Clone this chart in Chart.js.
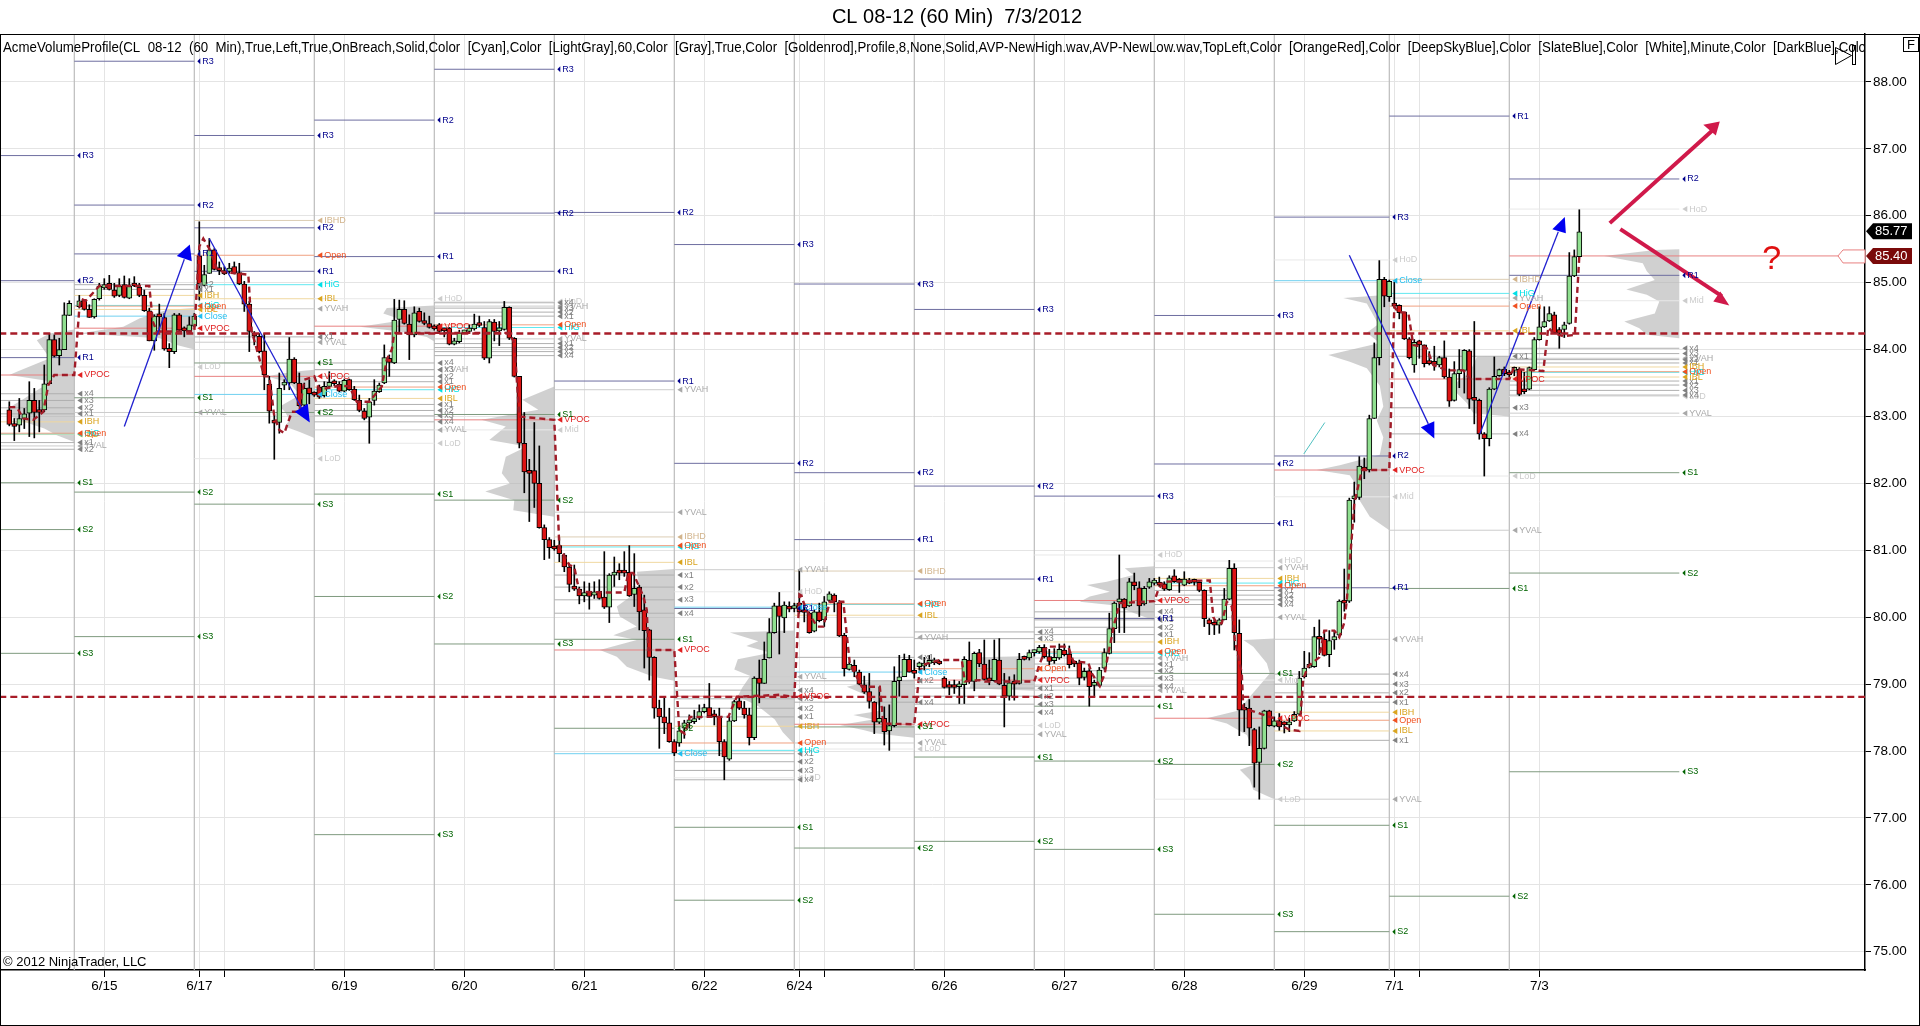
<!DOCTYPE html>
<html lang="en">

<head>
    <meta charset="UTF-8">
    <title>CL 08-12 (60 Min) 7/3/2012</title>
    <style>
        body { margin: 0; background: #fff; }
        canvas { display: block; }
    </style>
</head>

<body>
    <canvas id="chart" width="1920" height="1026"></canvas>

    <script src="https://cdn.jsdelivr.net/npm/chart.js"></script>

    <script>
        // 60 min bars, slot 13 is empty in the picture
        const opens = [
            83.10, 82.88, 82.87, 82.97, 83.05, 83.24, 83.07, 83.10, 83.49, 84.15,
            83.91, 84.00, 84.51, null, 84.64, 84.74, 84.60, 84.49, 84.76, 84.92,
            84.99, 84.89, 84.81, 84.97, 84.77, 84.97, 84.93, 84.81, 84.58, 84.13,
            84.52, 84.48, 84.02, 83.97, 84.52, 84.29, 84.28, 84.35, 85.40, 84.96,
            85.14, 85.49, 85.22, 85.18, 85.17, 85.24, 85.15, 84.98, 84.68, 84.22,
            84.20, 83.98, 83.48, 82.93, 82.91, 83.47, 83.50, 83.86, 83.50, 83.17,
            83.43, 83.34, 83.44, 83.31, 83.45, 83.51, 83.48, 83.38, 83.55, 83.41,
            83.24, 83.08, 82.99, 83.24, 83.37, 83.50, 83.87, 83.80, 84.45, 84.60,
            84.38, 84.22, 84.57, 84.42, 84.39, 84.33, 84.37, 84.29, 84.32, 84.08,
            84.12, 84.25, 84.27, 84.31, 84.39, 84.33, 83.87, 84.41, 84.28, 84.30,
            84.63, 84.17, 83.60, 82.60, 82.19, 82.19, 82.00, 81.34, 81.16, 81.04,
            81.07, 80.93, 80.75, 80.45, 80.42, 80.32, 80.39, 80.33, 80.39, 80.30,
            80.15, 80.63, 80.67, 80.67, 80.67, 80.34, 80.45, 80.11, 79.81, 79.40,
            78.64, 78.51, 78.42, 78.14, 78.12, 78.34, 78.42, 78.44, 78.49, 78.59,
            78.65, 78.52, 78.51, 78.14, 77.88, 78.45, 78.75, 78.64, 78.54, 78.20,
            79.09, 79.01, 79.39, 79.77, 80.17, 79.99, 80.15, 80.13, 80.21, 80.08,
            80.06, 79.79, 80.08, 79.96, 80.25, 80.33, 80.22, 79.73, 79.22, 79.28,
            79.18, 78.99, 78.89, 78.73, 78.43, 78.49, 78.30, 78.38, 79.05, 79.11,
            79.37, 79.18, 79.26, 79.27, 79.31, 79.32, 79.31, 79.09, 78.96, 78.96,
            78.96, 78.99, 79.36, 79.04, 79.47, 79.30, 79.06, 79.05, 79.36, 78.98,
            78.82, 79.01, 79.01, 79.39, 79.39, 79.47, 79.48, 79.55, 79.41, 79.35,
            79.39, 79.51, 79.45, 79.31, 79.32, 79.10, 79.20, 78.98, 78.98, 79.24,
            79.46, 79.83, 80.23, 80.27, 80.17, 80.53, 80.44, 80.20, 80.45, 80.51,
            80.52, 80.50, 80.41, 80.62, 80.53, 80.48, 80.56, 80.53, 80.52, 80.40,
            79.96, 79.90, 79.88, 79.96, 80.27, 80.73, 79.76, 78.64, 78.64, 78.32,
            77.83, 78.04, 78.60, 78.37, 78.45, 78.41, 78.39, 78.45, 78.55, 79.11,
            79.25, 79.26, 79.71, 79.67, 79.44, 79.66, 79.73, 80.24, 80.24, 81.77,
            81.79, 82.22, 82.20, 82.97, 83.88, 85.05, 84.79, 84.68, 84.66, 84.56,
            84.16, 83.77, 84.13, 84.07, 83.81, 83.81, 83.77, 83.88, 83.59, 83.24,
            83.64, 83.69, 83.98, 83.26, 83.24, 82.74, 82.67, 83.41, 83.61, 83.71,
            83.64, 83.69, 83.71, 83.39, 83.41, 83.70, 84.15, 84.34, 84.43, 84.52,
            84.30, 84.30, 84.39, 85.10, 85.39
        ];
        const highs = [
            83.22, 82.97, 83.27, 83.12, 83.52, 83.42, 83.24, 83.77, 84.24, 84.22,
            84.17, 84.70, 84.73, null, 84.81, 84.74, 84.67, 84.76, 84.99, 85.06,
            85.11, 84.99, 85.06, 85.10, 85.06, 85.09, 84.99, 84.89, 84.62, 84.52,
            84.68, 84.54, 84.09, 84.54, 84.54, 84.34, 84.49, 84.54, 85.91, 85.26,
            85.66, 85.51, 85.31, 85.24, 85.29, 85.31, 85.29, 85.02, 84.72, 84.27,
            84.24, 84.24, 83.60, 83.02, 83.65, 83.55, 84.18, 83.88, 83.65, 83.50,
            83.55, 83.37, 83.47, 83.52, 83.67, 83.55, 83.52, 83.56, 83.56, 83.45,
            83.32, 83.12, 83.27, 83.55, 83.50, 84.07, 83.92, 84.75, 84.74, 84.73,
            84.52, 84.64, 84.62, 84.55, 84.50, 84.37, 84.39, 84.32, 84.33, 84.17,
            84.29, 84.29, 84.37, 84.53, 84.50, 84.42, 84.45, 84.45, 84.42, 84.72,
            84.64, 84.18, 83.60, 83.06, 82.36, 82.91, 82.56, 81.38, 81.19, 81.15,
            81.19, 80.95, 80.80, 80.78, 80.45, 80.53, 80.51, 80.53, 80.56, 80.98,
            80.65, 80.90, 80.80, 80.98, 81.07, 80.95, 80.48, 80.33, 79.82, 79.41,
            78.76, 78.79, 78.64, 78.17, 78.34, 78.46, 78.54, 78.61, 78.69, 78.70,
            79.01, 78.61, 78.64, 78.17, 78.51, 78.76, 78.79, 78.74, 78.64, 79.11,
            79.36, 79.63, 79.98, 80.21, 80.37, 80.23, 80.23, 80.21, 80.71, 80.16,
            80.08, 80.11, 80.21, 80.31, 80.38, 80.35, 80.25, 79.76, 79.33, 79.36,
            79.21, 79.12, 79.16, 78.74, 78.96, 78.66, 78.69, 79.26, 79.43, 79.45,
            79.43, 79.36, 79.33, 79.40, 79.43, 79.39, 79.36, 79.11, 79.04, 79.06,
            79.04, 79.41, 79.63, 79.48, 79.52, 79.66, 79.36, 79.66, 79.68, 79.16,
            79.11, 79.14, 79.46, 79.42, 79.51, 79.51, 79.58, 79.59, 79.52, 79.53,
            79.60, 79.60, 79.57, 79.34, 79.36, 79.24, 79.24, 79.06, 79.25, 79.53,
            80.06, 80.23, 80.93, 80.28, 80.58, 80.66, 80.53, 80.46, 80.58, 80.58,
            80.60, 80.53, 80.62, 80.71, 80.58, 80.68, 80.58, 80.57, 80.53, 80.41,
            79.98, 79.96, 79.98, 80.43, 80.85, 80.80, 79.96, 78.71, 78.77, 78.34,
            78.36, 78.61, 78.61, 78.51, 78.56, 78.44, 78.49, 78.59, 79.19, 79.49,
            79.47, 79.85, 79.96, 79.80, 79.80, 79.80, 80.26, 80.72, 81.78, 82.02,
            82.40, 82.38, 83.02, 84.10, 85.33, 85.08, 85.04, 85.01, 84.67, 84.56,
            84.18, 84.15, 84.14, 84.07, 83.97, 84.05, 83.90, 84.13, 83.71, 83.82,
            84.00, 84.00, 84.00, 84.42, 83.26, 82.76, 83.43, 83.89, 83.71, 83.74,
            83.69, 83.74, 83.73, 83.66, 83.74, 84.18, 84.64, 84.64, 84.64, 84.56,
            84.33, 84.41, 85.45, 85.49, 86.09
        ];
        const lows = [
            82.86, 82.64, 82.77, 82.82, 82.70, 82.68, 82.77, 83.07, 83.49, 83.89,
            83.77, 84.00, 84.51, null, 84.62, 84.59, 84.48, 84.47, 84.74, 84.90,
            84.89, 84.78, 84.79, 84.77, 84.76, 84.94, 84.79, 84.57, 84.13, 83.99,
            84.27, 83.99, 83.73, 83.94, 84.27, 84.19, 84.24, 84.34, 84.74, 84.95,
            85.14, 85.19, 85.12, 85.12, 85.14, 85.13, 84.97, 84.57, 83.97, 84.07,
            83.95, 83.40, 82.90, 82.36, 82.75, 83.40, 83.40, 83.49, 83.15, 83.15,
            83.19, 83.30, 83.27, 83.29, 83.42, 83.46, 83.37, 83.37, 83.39, 83.24,
            83.07, 82.95, 82.60, 83.17, 83.36, 83.49, 83.60, 83.79, 84.24, 84.38,
            83.85, 84.19, 84.41, 84.37, 84.32, 84.29, 84.25, 84.19, 84.07, 84.07,
            84.10, 84.24, 84.25, 84.29, 84.34, 83.85, 83.80, 84.13, 84.06, 84.29,
            84.15, 83.59, 82.53, 81.86, 81.43, 81.64, 81.33, 80.86, 80.88, 81.00,
            80.83, 80.68, 80.38, 80.40, 80.20, 80.23, 80.12, 80.28, 80.27, 80.13,
            79.92, 80.46, 80.56, 80.61, 80.31, 80.16, 79.81, 79.24, 79.06, 78.49,
            78.04, 78.26, 78.13, 77.93, 78.07, 78.19, 78.34, 78.41, 78.47, 78.57,
            78.51, 78.39, 77.93, 77.57, 77.86, 78.44, 78.62, 78.49, 78.09, 78.17,
            78.72, 79.01, 79.39, 79.76, 79.45, 79.77, 80.08, 80.08, 80.06, 79.93,
            79.76, 79.78, 79.93, 79.86, 80.23, 80.08, 79.71, 79.12, 79.21, 79.11,
            78.99, 78.86, 78.64, 78.26, 78.41, 78.09, 78.01, 78.36, 78.82, 79.11,
            79.18, 79.09, 79.21, 79.21, 79.26, 79.29, 79.29, 78.94, 78.84, 78.86,
            78.71, 78.71, 79.01, 78.90, 79.26, 79.06, 78.99, 79.04, 78.99, 78.36,
            78.76, 78.76, 79.00, 79.36, 79.36, 79.42, 79.46, 79.39, 79.29, 79.31,
            79.37, 79.42, 79.24, 79.26, 78.99, 79.06, 78.67, 78.81, 78.97, 79.22,
            79.45, 79.62, 79.77, 79.77, 80.16, 80.41, 80.01, 80.18, 80.43, 80.48,
            80.46, 80.40, 80.40, 80.52, 80.37, 80.47, 80.50, 80.48, 80.38, 79.86,
            79.74, 79.74, 79.76, 79.96, 80.26, 79.51, 78.23, 78.29, 78.08, 77.46,
            77.28, 78.03, 78.37, 78.36, 78.31, 78.27, 78.29, 78.44, 78.54, 79.09,
            79.24, 79.25, 79.44, 79.42, 79.26, 79.52, 79.71, 80.09, 80.22, 81.42,
            81.76, 82.07, 82.17, 82.97, 83.77, 84.64, 84.72, 84.62, 84.46, 84.15,
            83.86, 83.66, 83.87, 83.74, 83.77, 83.69, 83.74, 83.57, 83.15, 83.23,
            83.43, 83.35, 83.12, 82.89, 82.66, 82.11, 82.56, 83.40, 83.60, 83.61,
            83.59, 83.61, 83.31, 83.34, 83.40, 83.69, 84.14, 84.33, 84.42, 84.24,
            84.02, 84.18, 84.38, 85.09, 85.39
        ];
        const closes = [
            82.88, 82.85, 82.97, 83.04, 83.24, 83.06, 83.06, 83.49, 84.15, 83.90,
            84.00, 84.52, 84.69, null, 84.73, 84.60, 84.48, 84.75, 84.95, 84.97,
            84.90, 84.80, 84.95, 84.78, 84.95, 84.95, 84.81, 84.58, 84.13, 84.50,
            84.49, 84.01, 83.97, 84.52, 84.29, 84.28, 84.37, 84.50, 84.98, 85.12,
            85.49, 85.20, 85.18, 85.13, 85.22, 85.15, 84.98, 84.68, 84.27, 84.20,
            83.97, 83.62, 83.08, 82.90, 83.42, 83.51, 83.86, 83.50, 83.16, 83.42,
            83.34, 83.32, 83.29, 83.45, 83.51, 83.49, 83.38, 83.54, 83.40, 83.25,
            83.09, 82.97, 83.22, 83.38, 83.47, 83.88, 83.81, 84.44, 84.60, 84.39,
            84.22, 84.55, 84.42, 84.39, 84.33, 84.31, 84.27, 84.28, 84.08, 84.13,
            84.25, 84.27, 84.32, 84.38, 84.36, 83.87, 84.42, 84.27, 84.30, 84.63,
            84.17, 83.60, 82.60, 82.17, 82.15, 82.00, 81.34, 81.16, 81.04, 81.02,
            80.95, 80.75, 80.49, 80.42, 80.32, 80.37, 80.31, 80.38, 80.28, 80.15,
            80.63, 80.67, 80.66, 80.66, 80.32, 80.43, 80.08, 79.80, 79.40, 78.64,
            78.51, 78.42, 78.14, 77.97, 78.30, 78.42, 78.45, 78.47, 78.59, 78.65,
            78.52, 78.51, 78.14, 77.91, 78.45, 78.74, 78.64, 78.54, 78.20, 79.09,
            79.01, 79.37, 79.77, 80.17, 80.01, 80.18, 80.12, 80.15, 80.08, 80.07,
            79.77, 80.08, 79.95, 80.23, 80.35, 80.23, 79.72, 79.23, 79.30, 79.19,
            79.00, 78.88, 78.74, 78.43, 78.49, 78.29, 78.38, 79.04, 79.11, 79.37,
            79.18, 79.16, 79.32, 79.30, 79.33, 79.33, 79.30, 78.95, 78.95, 78.95,
            78.99, 79.37, 79.04, 79.46, 79.30, 79.07, 79.05, 79.37, 79.00, 78.82,
            79.02, 79.00, 79.37, 79.37, 79.47, 79.48, 79.55, 79.41, 79.34, 79.40,
            79.52, 79.44, 79.29, 79.30, 79.09, 79.19, 78.96, 79.00, 79.21, 79.47,
            79.83, 80.21, 80.27, 80.14, 80.53, 80.47, 80.17, 80.43, 80.53, 80.53,
            80.48, 80.42, 80.59, 80.53, 80.52, 80.57, 80.51, 80.52, 80.40, 79.98,
            79.90, 79.88, 79.96, 80.27, 80.73, 79.77, 78.61, 78.61, 78.34, 77.82,
            78.04, 78.60, 78.38, 78.45, 78.36, 78.39, 78.43, 78.55, 79.09, 79.24,
            79.28, 79.71, 79.67, 79.43, 79.65, 79.71, 80.24, 80.21, 81.75, 81.79,
            82.26, 82.20, 82.97, 83.88, 85.05, 84.80, 85.02, 84.65, 84.55, 84.16,
            83.88, 84.11, 84.07, 83.79, 83.79, 83.78, 83.88, 83.59, 83.23, 83.64,
            83.70, 83.99, 83.26, 83.24, 82.74, 82.67, 83.41, 83.60, 83.70, 83.64,
            83.62, 83.71, 83.33, 83.37, 83.73, 84.15, 84.34, 84.42, 84.54, 84.25,
            84.24, 84.37, 85.10, 85.39, 85.76
        ];

        // axis
        const priceTicks = [75, 76, 77, 78, 79, 80, 81, 82, 83, 84, 85, 86, 87, 88];
        const tickBars = [19, 38, 43, 67, 91, 115, 139, 158, 163, 187, 211, 235, 259, 277, 282, 306];
        const tickLabels = ['6/15', '6/17', '', '6/19', '6/20', '6/21', '6/22', '6/24', '', '6/26', '6/27', '6/28', '6/29', '7/1', '', '7/3'];
        const sessionBars = [-2, 13, 37, 61, 85, 109, 133, 157, 181, 205, 229, 253, 276, 300, 334];

        // session levels: [session number, price]
        const r3Levels = [[0, 86.90], [1, 88.31], [2, 87.20], [4, 88.19], [6, 85.57], [7, 84.98], [8, 84.60], [9, 81.81], [10, 84.51], [11, 85.98]];
        const r2Levels = [[0, 85.03], [1, 86.16], [2, 85.82], [3, 87.43], [4, 86.04], [5, 86.05], [6, 82.30], [7, 82.16], [8, 81.96], [10, 82.29], [11, 82.41], [13, 86.55]];
        const r1Levels = [[0, 83.88], [1, 85.43], [2, 85.17], [3, 85.39], [4, 85.17], [5, 83.53], [6, 80.13], [7, 81.16], [8, 80.57], [9, 79.98], [10, 81.40], [11, 80.44], [12, 87.49], [13, 85.11]];
        const s1Levels = [[0, 82.01], [1, 83.28], [2, 83.80], [3, 81.84], [4, 83.03], [5, 79.67], [6, 76.86], [7, 78.36], [8, 77.91], [9, 78.67], [10, 79.16], [11, 76.89], [12, 80.43], [13, 82.16]];
        const s2Levels = [[0, 81.31], [1, 81.87], [2, 83.06], [3, 80.31], [4, 81.75], [5, 78.34], [6, 75.77], [7, 76.55], [8, 76.65], [9, 77.85], [10, 77.80], [11, 75.30], [12, 75.83], [13, 80.66]];
        const s3Levels = [[0, 79.46], [1, 79.71], [2, 81.69], [3, 76.75], [4, 79.60], [9, 76.53], [10, 75.56], [13, 77.69]];
        const x1Levels = [[0, 83.04], [0, 82.61], [1, 84.90], [2, 84.19], [3, 83.52], [3, 83.18], [4, 84.50], [4, 84.09], [5, 80.63], [6, 78.51], [6, 77.96], [7, 79.40], [8, 78.94], [9, 79.74], [9, 79.30], [10, 80.40], [11, 78.73], [11, 78.16], [12, 83.90], [13, 83.80], [13, 83.53]];
        const x2Levels = [[0, 83.13], [0, 82.51], [1, 84.97], [3, 83.60], [3, 83.09], [4, 84.56], [4, 84.03], [5, 80.45], [6, 78.64], [6, 77.84], [7, 79.05], [8, 78.82], [9, 79.85], [9, 79.20], [10, 80.33], [11, 78.87], [13, 83.85], [13, 83.47]];
        const x3Levels = [[0, 83.24], [3, 83.70], [3, 83.01], [4, 84.62], [4, 83.97], [5, 80.26], [6, 78.78], [6, 77.71], [8, 79.68], [8, 78.70], [9, 79.96], [9, 79.09], [10, 80.26], [11, 79.00], [12, 83.13], [13, 83.94], [13, 83.39]];
        const x4Levels = [[0, 83.34], [3, 83.80], [3, 82.92], [4, 84.70], [4, 83.91], [5, 80.06], [6, 78.91], [6, 77.57], [7, 78.73], [8, 79.78], [8, 78.58], [9, 80.08], [9, 78.97], [10, 80.19], [11, 79.15], [12, 82.74], [13, 84.02], [13, 83.32]];
        const hodLevels = [[3, 84.76], [4, 84.72], [6, 80.38], [9, 80.93], [10, 80.84], [11, 85.34], [13, 86.10]];
        const lodLevels = [[1, 83.74], [2, 82.37], [3, 82.60], [6, 77.60], [7, 78.03], [8, 78.38], [10, 77.28], [12, 82.11], [13, 83.30]];
        const midLevels = [[4, 82.80], [10, 79.06], [11, 81.80], [13, 84.73]];
        const yvahLevels = [[3, 83.70], [4, 84.65], [2, 84.61], [5, 83.40], [6, 80.71], [7, 79.70], [9, 79.39], [10, 80.74], [11, 79.67], [12, 84.77], [13, 83.87]];
        const yvalLevels = [[0, 82.56], [1, 83.06], [2, 84.11], [3, 82.80], [4, 84.16], [5, 81.57], [6, 79.11], [7, 78.12], [8, 78.25], [9, 78.91], [10, 80.00], [11, 77.28], [12, 81.30], [13, 83.05]];
        const ibhdLevels = [[2, 85.93], [5, 81.20], [7, 80.69], [12, 85.05]];
        const ibhLevels = [[0, 82.92], [1, 84.81], [6, 78.37], [9, 79.63], [10, 80.58], [11, 78.58], [13, 83.74]];
        const iblLevels = [[0, 82.73], [1, 84.60], [2, 84.76], [3, 83.27], [5, 80.82], [7, 80.03], [11, 78.30], [12, 84.28], [13, 83.59]];
        const openLevels = [[0, 82.75], [1, 84.65], [2, 85.41], [3, 83.44], [4, 84.37], [5, 81.07], [6, 78.12], [7, 80.20], [8, 79.23], [9, 79.48], [10, 80.47], [11, 78.46], [12, 84.65], [13, 83.67]];
        const higLevels = [[0, 82.74], [1, 84.66], [2, 84.97], [3, 83.40], [4, 84.33], [5, 81.05], [6, 78.01], [7, 80.19], [9, 79.46], [10, 80.51], [12, 84.84], [13, 83.66]];
        const closeLevels = [[1, 84.50], [2, 83.33], [5, 77.96], [6, 80.15], [7, 79.18], [11, 85.03]];
        const vpocLevels = [[0, 83.62], [1, 84.32], [2, 83.60], [3, 84.35], [4, 82.95], [5, 79.51], [6, 78.82], [7, 78.40], [8, 79.06], [9, 80.25], [10, 78.49], [11, 82.20], [12, 83.56]];

        // developing vpoc, dashed step line
        const vpocBars = [
            0, 1.5, 2.8, 4.8, 6.8, 7.8, 9, 13, 14, 14.3, 15.3, 18, 28, 28.7, 29.5, 37, 38, 38.8, 40, 41.5, 42.8, 47.8, 48.5, 51, 52, 53, 54, 55, 56.5, 58, 59, 61,
            62, 66, 68, 69.5, 72, 74.5, 75.5, 76.5, 77, 85, 100, 101, 102, 109, 110, 112, 113, 114, 118.8, 123, 123.8, 124.8, 126.8, 127.5, 127.8, 133,
            134, 135.1, 136.1, 143.8, 145.5, 154, 157, 158.1, 158.8, 159.8, 161.6, 162.8, 164.1, 166.8, 168.1, 170.5, 174.1, 174.8, 181,
            182, 182.8, 186.1, 190.5, 191.1, 194.1, 195.1, 205, 206, 207.5, 211.8, 212.8, 215.8, 216.5, 218.1, 219.1, 219.8, 221.1, 222.1, 229,
            229.8, 230.8, 240.1, 240.8, 241.5, 242.5, 243.5, 244.5, 245.1, 246.5, 246.8, 253, 254, 256, 258, 258.8, 259.8, 262, 263, 265, 266, 267, 267.5, 268.5, 269, 270.5, 276,
            277, 277.8, 279.8, 280.8, 283.5, 284.8, 287.5, 290.8, 292.1, 300, 300.8, 306.8, 307.8, 308.8, 310.8, 313.1, 314
        ];
        const vpocPrices = [
            83.14, 83.14, 82.97, 82.95, 83.07, 83.47, 83.62, 83.62, 84.61, 84.76, 84.73, 84.95, 84.95, 84.42, 84.27, 84.27, 85.54, 85.66, 85.51, 85.21, 85.16, 85.12, 84.27, 83.60, 83.60, 83.00, 82.80, 82.75, 83.07, 83.07, 83.55, 83.60,
            83.40, 83.46, 83.45, 83.22, 83.22, 83.45, 83.85, 84.00, 84.25, 84.25, 84.25, 84.10, 83.00, 82.95, 81.05, 80.78, 80.75, 80.38, 80.37, 80.37, 80.66, 80.66, 80.31, 80.11, 79.51, 79.51,
            78.31, 78.26, 78.51, 78.51, 78.81, 78.84, 78.81, 80.41, 80.23, 80.06, 79.86, 79.86, 80.23, 80.23, 79.31, 78.96, 78.96, 78.41, 78.40,
            79.16, 79.29, 79.36, 79.36, 79.04, 79.06, 79.04, 79.04, 79.29, 79.56, 79.56, 79.34, 79.32, 79.16, 78.97, 79.16, 79.46, 79.93, 80.21, 80.24,
            80.41, 80.53, 80.55, 80.00, 79.91, 79.91, 80.23, 80.16, 79.66, 79.16, 78.64, 78.49, 78.40, 78.32, 78.30, 79.08, 79.27, 79.40, 79.80, 79.80, 79.70, 79.92, 80.25, 81.20, 81.70, 82.20, 82.20,
            84.64, 84.56, 84.55, 84.07, 84.02, 83.77, 83.69, 83.69, 83.56, 83.56, 83.71, 83.68, 84.33, 84.25, 84.20, 84.22, 85.39
        ];

        // the two hand drawn dashed lines and the live prices
        const dashedPrices = [84.24, 78.81];
        const lastPrice = 85.77;
        const openVpocPrice = 85.40;

        // volume profiles, they hang to the left of the session end: price and width in bars
        const profilePrices = [
            [84.30, 84.24, 84.14, 84.04, 83.87, 83.67, 83.62, 83.52, 83.42, 83.27, 83.14, 83.07, 82.97, 82.82, 82.72, 82.62],
            [84.62, 84.59, 84.47, 84.34, 84.29, 84.24, 84.17, 84.07, 84.00],
            [83.70, 83.67, 83.60, 83.50, 83.32, 83.15, 83.07, 82.95, 82.85, 82.77, 82.68],
            [84.66, 84.62, 84.54, 84.44, 84.34, 84.27, 84.19, 84.12],
            [83.45, 83.25, 83.10, 82.95, 82.85, 82.65, 82.55, 82.40, 82.15, 82.00, 81.88, 81.75, 81.60, 81.50],
            [80.72, 80.68, 80.41, 80.16, 80.01, 79.86, 79.73, 79.66, 79.51, 79.41, 79.26, 79.11, 79.05],
            [79.80, 79.77, 79.64, 79.57, 79.47, 79.37, 79.22, 79.12, 78.95, 78.82, 78.67, 78.47, 78.28, 78.10],
            [79.07, 79.05, 78.96, 78.81, 78.61, 78.54, 78.47, 78.39, 78.31, 78.26, 78.20],
            [79.42, 79.40, 79.21, 79.06, 78.94, 78.90],
            [80.76, 80.73, 80.63, 80.53, 80.48, 80.38, 80.31, 80.23, 80.18, 80.03, 79.95],
            [79.68, 79.66, 79.56, 79.31, 79.16, 78.76, 78.61, 78.49, 78.41, 78.24, 78.01, 77.82, 77.72, 77.57, 77.42, 77.28],
            [84.82, 84.77, 84.69, 84.38, 84.25, 84.10, 83.92, 83.82, 83.72, 83.46, 83.15, 82.94, 82.69, 82.43, 82.27, 82.20, 82.12, 81.96, 81.81, 81.66, 81.50, 81.30],
            [83.90, 83.89, 83.66, 83.51, 83.35, 83.20, 83.05, 83.00],
            [85.50, 85.49, 85.40, 85.29, 85.17, 85.04, 84.90, 84.82, 84.72, 84.54, 84.42, 84.32, 84.22, 84.17]
        ];
        const profileWidths = [
            [0, 4.9, 7.5, 6.5, 4.9, 11.5, 13, 4.2, 6.9, 10, 12.9, 13.5, 12, 6, 3.5, 0],
            [0, 5.5, 10.9, 14.2, 18.9, 22.9, 6.9, 3.5, 0],
            [0, 4.2, 9.5, 4.9, 2.9, 6.9, 5.9, 4.9, 5.9, 2.9, 0],
            [0, 9.5, 10.2, 6.2, 14.9, 6.9, 1.5, 0],
            [0, 6.4, 3.2, 14.6, 9.7, 13, 5.5, 9.7, 10.5, 8.9, 13.8, 8, 8.2, 0],
            [0, 7.5, 6.9, 11.5, 10.9, 7.5, 12.2, 7.5, 14.9, 11.5, 9.5, 4.2, 0],
            [0, 12.9, 7.2, 9.6, 4.7, 11.3, 12, 8.8, 10.4, 11.3, 7.2, 3.9, 2.3, 0],
            [0, 8.2, 13.5, 8.9, 6.2, 12.2, 8.2, 14.9, 10, 7.5, 0],
            [0, 11, 11.7, 12.4, 13, 0],
            [0, 5.9, 4.2, 9.5, 13.5, 8.9, 12.9, 14.9, 8.2, 2.9, 0],
            [0, 6.2, 4.2, 1.5, 0.9, 5.5, 6.9, 13.5, 9.5, 5.5, 4.2, 2.9, 6.9, 4.9, 4.2, 0],
            [0, 9.2, 4.5, 2.2, 4.5, 1.9, 12.2, 7.9, 4.5, 1.9, 1.2, 2.5, 1.2, 1.9, 9.9, 14.5, 7.9, 6.5, 6.5, 5.2, 3.9, 0],
            [0, 6.5, 7.9, 10.5, 10.5, 8.5, 7.2, 0],
            [0, 4.9, 15, 7.3, 6.5, 4.9, 10.6, 6.5, 4, 4.9, 11, 8, 6.5, 0]
        ];

        // drawn on the chart by hand, bar / price pairs
        const blueArrowBars = [[23, 35], [40, 58.5], [268, 283.8], [294.1, 309.8]];
        const blueArrowPrices = [[82.85, 85.35], [85.66, 83.12], [85.41, 82.89], [82.74, 85.76]];
        const blueHeadBars = [[36.1, 33.5, 36.5], [60.1, 57.1, 59.7], [285, 282.3, 285], [311.1, 308.6, 311.3]];
        const blueHeadPrices = [[85.57, 85.40, 85.32], [82.91, 83.07, 83.19], [82.67, 82.84, 82.93], [85.98, 85.80, 85.74]];
        const redArrowBars = [[320.1, 341], [322.2, 342.5]];
        const redArrowPrices = [[85.89, 87.3], [85.80, 84.8]];
        const redHeadBars = [[342.1, 338.8, 341.3], [344, 342.2, 340.8]];
        const redHeadPrices = [[87.41, 87.36, 87.20], [84.66, 84.87, 84.72]];
        const tealLineBars = [258.9, 263.1];
        const tealLinePrices = [82.44, 82.91];

        const chartTitle = 'CL 08-12 (60 Min)  7/3/2012';
        const indicatorText = 'AcmeVolumeProfile(CL  08-12  (60  Min),True,Left,True,OnBreach,Solid,Color  [Cyan],Color  [LightGray],60,Color  [Gray],True,Color  [Goldenrod],Profile,8,None,Solid,AVP-NewHigh.wav,AVP-NewLow.wav,TopLeft,Color  [OrangeRed],Color  [DeepSkyBlue],Color  [SlateBlue],Color  [White],Minute,Color  [DarkBlue]';
        const indicatorTail = ',Color';

        const sans = "'Liberation Sans', Arial, sans-serif";
        const narrow = "'Liberation Sans Narrow', 'Liberation Sans', Arial, sans-serif";

        const levelKinds = [
            { list: hodLevels, name: 'HoD', line: '#e8e8e8', text: '#cccccc' },
            { list: lodLevels, name: 'LoD', line: '#e8e8e8', text: '#cccccc' },
            { list: midLevels, name: 'Mid', line: '#e8e8e8', text: '#cccccc' },
            { list: yvahLevels, name: 'YVAH', line: '#cccccc', text: '#a8a8a8' },
            { list: yvalLevels, name: 'YVAL', line: '#cccccc', text: '#a8a8a8' },
            { list: x4Levels, name: 'x4', line: '#b0b0b0', text: '#808080' },
            { list: x3Levels, name: 'x3', line: '#b0b0b0', text: '#808080' },
            { list: x2Levels, name: 'x2', line: '#b0b0b0', text: '#808080' },
            { list: x1Levels, name: 'x1', line: '#b0b0b0', text: '#808080' },
            { list: ibhdLevels, name: 'IBHD', line: '#dccdb4', text: '#d2b48c' },
            { list: ibhLevels, name: 'IBH', line: '#f0d8a0', text: '#daa520' },
            { list: iblLevels, name: 'IBL', line: '#f0d8a0', text: '#daa520' },
            { list: closeLevels, name: 'Close', line: '#70d0f0', text: '#20bff0' },
            { list: higLevels, name: 'HiG', line: '#60e8f0', text: '#00e0e8' },
            { list: openLevels, name: 'Open', line: '#f0a080', text: '#f05020' },
            { list: vpocLevels, name: 'VPOC', line: '#e88080', text: '#e02020' },
            { list: s3Levels, name: 'S3', line: '#7f9a7f', text: '#006400', pivot: true },
            { list: s2Levels, name: 'S2', line: '#7f9a7f', text: '#006400', pivot: true },
            { list: s1Levels, name: 'S1', line: '#7f9a7f', text: '#006400', pivot: true },
            { list: r1Levels, name: 'R1', line: '#6e6ea0', text: '#00008b', pivot: true },
            { list: r2Levels, name: 'R2', line: '#6e6ea0', text: '#00008b', pivot: true },
            { list: r3Levels, name: 'R3', line: '#6e6ea0', text: '#00008b', pivot: true }
        ];

        function levelPoints(list) {
            const pts = [];
            list.forEach(l => {
                pts.push({ x: sessionBars[l[0]], y: l[1] }, { x: sessionBars[l[0] + 1], y: l[1] }, { x: sessionBars[l[0] + 1], y: null });
            });
            return pts;
        }

        function pairPoints(xs, ys) {
            return xs.map((x, i) => ({ x: x, y: ys[i] }));
        }

        const datasets = [];

        // gray profiles at the bottom
        profilePrices.forEach((prices, s) => {
            const right = sessionBars[s + 1];
            const pts = prices.map((p, i) => ({ x: right - profileWidths[s][i], y: p }));
            datasets.push({
                type: 'line', data: pts, fill: 'shape', borderWidth: 0, pointRadius: 0,
                backgroundColor: 'rgba(176,176,176,0.6)', order: 90
            });
        });

        // session separators
        const sessionLines = [];
        sessionBars.slice(1, -1).forEach(b => {
            sessionLines.push({ x: b, y: 74 }, { x: b, y: 89 }, { x: b, y: null });
        });
        datasets.push({ type: 'line', data: sessionLines, borderColor: '#bcbcbc', borderWidth: 1.2, pointRadius: 0, order: 85 });

        levelKinds.forEach((k, i) => {
            datasets.push({ type: 'line', data: levelPoints(k.list), borderColor: k.line, borderWidth: 1, pointRadius: 0, order: 80 - i });
        });
        datasets.push({ type: 'line', data: [{ x: sessionBars[13], y: openVpocPrice }, { x: 366, y: openVpocPrice }], borderColor: '#e88080', borderWidth: 1, pointRadius: 0, order: 50 });

        // candles: wick under body
        const wicks = [], bodies = [], bodyColors = [];
        opens.forEach((o, i) => {
            if (o === null) return;
            wicks.push({ x: i, y: [lows[i], highs[i]] });
            bodies.push({ x: i, y: [o, closes[i]] });
            bodyColors.push(closes[i] >= o ? '#90e090' : '#dc1414');
        });
        datasets.push({ type: 'bar', data: wicks, backgroundColor: '#000', barThickness: 1, grouped: false, order: 40 });
        datasets.push({
            type: 'bar', data: bodies, backgroundColor: bodyColors, borderColor: '#000', borderWidth: 1, borderSkipped: false,
            barThickness: 5, minBarLength: 3, grouped: false, order: 39
        });

        datasets.push({
            type: 'line', data: pairPoints(vpocBars, vpocPrices), borderColor: '#a01c28', borderWidth: 2.4, borderDash: [6, 4], pointRadius: 0, order: 30
        });

        dashedPrices.forEach(p => {
            datasets.push({
                type: 'line', data: [{ x: -2, y: p }, { x: 372, y: p }], borderColor: '#a81c28', borderWidth: 2.4, borderDash: [7, 4], pointRadius: 0, order: 20
            });
        });

        datasets.push({ type: 'line', data: pairPoints(tealLineBars, tealLinePrices), borderColor: '#50c0c0', borderWidth: 1, pointRadius: 0, order: 15 });

        blueArrowBars.forEach((xs, i) => {
            datasets.push({ type: 'line', data: pairPoints(xs, blueArrowPrices[i]), borderColor: '#2020d0', borderWidth: 1.3, pointRadius: 0, order: 10 });
            datasets.push({
                type: 'line', data: pairPoints(blueHeadBars[i], blueHeadPrices[i]), fill: 'shape', borderWidth: 0,
                backgroundColor: '#0000f0', pointRadius: 0, order: 9
            });
        });
        redArrowBars.forEach((xs, i) => {
            datasets.push({ type: 'line', data: pairPoints(xs, redArrowPrices[i]), borderColor: '#d0194a', borderWidth: 4, pointRadius: 0, order: 8 });
            datasets.push({
                type: 'line', data: pairPoints(redHeadBars[i], redHeadPrices[i]), fill: 'shape', borderWidth: 0,
                backgroundColor: '#d0194a', pointRadius: 0, order: 7
            });
        });

        function priceTag(ctx, y, fill, text) {
            ctx.fillStyle = fill;
            ctx.beginPath();
            ctx.moveTo(1866, y);
            ctx.lineTo(1873, y - 8);
            ctx.lineTo(1912, y - 8);
            ctx.lineTo(1912, y + 8);
            ctx.lineTo(1873, y + 8);
            ctx.closePath();
            ctx.fill();
            ctx.fillStyle = '#fff';
            ctx.font = '13px ' + sans;
            ctx.textAlign = 'left';
            ctx.textBaseline = 'middle';
            ctx.fillText(text, 1875, y + 0.5);
        }

        const decorations = {
            id: 'decorations',
            afterDatasetsDraw(chart) {
                const ctx = chart.ctx;
                const xs = chart.scales.x;
                const ys = chart.scales.y;
                ctx.save();

                // session labels at the right end of each level line
                ctx.textAlign = 'left';
                ctx.textBaseline = 'middle';
                ctx.font = '9px ' + narrow;
                levelKinds.forEach(k => {
                    k.list.forEach(l => {
                        const x = xs.getPixelForValue(sessionBars[l[0] + 1]) + 3;
                        const y = ys.getPixelForValue(l[1]);
                        ctx.fillStyle = k.pivot ? k.text : k.text;
                        ctx.beginPath();
                        ctx.moveTo(x, y);
                        ctx.lineTo(x + (k.pivot ? 3 : 5), y - 3);
                        ctx.lineTo(x + (k.pivot ? 3 : 5), y + 3);
                        ctx.closePath();
                        ctx.fill();
                        ctx.fillText(k.name, x + (k.pivot ? 5 : 7), y);
                    });
                });

                // question mark between the two red arrows
                ctx.fillStyle = '#e01010';
                ctx.font = '34px ' + sans;
                ctx.textAlign = 'center';
                ctx.fillText('?', xs.getPixelForValue(352.5), ys.getPixelForValue(85.34));

                // vpoc flag against the axis
                const vy = ys.getPixelForValue(openVpocPrice);
                ctx.strokeStyle = '#e88080';
                ctx.fillStyle = '#fff';
                ctx.lineWidth = 1;
                ctx.beginPath();
                ctx.moveTo(1838, vy);
                ctx.lineTo(1843, vy - 6);
                ctx.lineTo(1865, vy - 6);
                ctx.lineTo(1865, vy + 7);
                ctx.lineTo(1843, vy + 7);
                ctx.closePath();
                ctx.fill();
                ctx.stroke();
                ctx.restore();
            },
            afterDraw(chart) {
                const ctx = chart.ctx;
                const ys = chart.scales.y;
                const area = chart.chartArea;
                ctx.save();

                ctx.fillStyle = '#000';
                ctx.font = '20px ' + sans;
                ctx.textAlign = 'center';
                ctx.textBaseline = 'middle';
                ctx.fillText(chartTitle, 957, 17);

                // indicator line, cut off at the axis like in NinjaTrader
                ctx.save();
                ctx.beginPath();
                ctx.rect(0, 35, area.right - 1, 24);
                ctx.clip();
                ctx.font = '14px ' + sans;
                ctx.textAlign = 'left';
                ctx.fillStyle = '#000';
                const sx = (1835 - 3) / ctx.measureText(indicatorText).width;
                ctx.translate(3, 48);
                ctx.scale(sx, 1);
                ctx.fillText(indicatorText + indicatorTail, 0, 0);
                ctx.restore();

                ctx.fillStyle = '#000';
                ctx.font = '13px ' + sans;
                ctx.textAlign = 'left';
                ctx.textBaseline = 'middle';
                ctx.fillText('\u00A9 2012 NinjaTrader, LLC', 3, 962);

                priceTag(ctx, ys.getPixelForValue(lastPrice), '#000', lastPrice.toFixed(2));
                priceTag(ctx, ys.getPixelForValue(openVpocPrice), '#7a0a0a', openVpocPrice.toFixed(2));

                // frame and the small corner things
                ctx.strokeStyle = '#000';
                ctx.fillStyle = '#000';
                ctx.lineWidth = 1;
                ctx.strokeRect(0.5, 34.5, 1919, 991);
                ctx.strokeRect(1903.5, 37.5, 15, 14);
                ctx.font = '13px ' + sans;
                ctx.textAlign = 'center';
                ctx.fillText('F', 1911, 45);
                ctx.beginPath();
                ctx.moveTo(1835.5, 47.5);
                ctx.lineTo(1851.5, 55.5);
                ctx.lineTo(1835.5, 64.5);
                ctx.closePath();
                ctx.stroke();
                ctx.strokeRect(1852.5, 45.5, 3, 19);
                ctx.restore();
            }
        };

        new Chart(document.getElementById('chart'), {
            type: 'line',
            data: { datasets: datasets },
            plugins: [decorations],
            options: {
                responsive: false,
                animation: false,
                devicePixelRatio: 1,
                events: [],
                spanGaps: false,
                layout: { padding: { left: 1, top: 34 } },
                elements: { line: { tension: 0 } },
                plugins: {
                    legend: { display: false },
                    tooltip: { enabled: false }
                },
                scales: {
                    x: {
                        type: 'linear',
                        offset: false,
                        min: -1.66,
                        max: 371.14,
                        afterBuildTicks: s => { s.ticks = tickBars.map(v => ({ value: v })); },
                        afterFit: s => { s.height = 56; },
                        grid: { color: '#e4e4e4', tickColor: '#000', tickLength: 7, offset: false },
                        border: { color: '#000', width: 1.5 },
                        ticks: {
                            autoSkip: false,
                            maxRotation: 0,
                            padding: 1,
                            color: '#000',
                            font: { family: sans, size: 13.5 },
                            callback: v => tickLabels[tickBars.indexOf(v)]
                        }
                    },
                    y: {
                        type: 'linear',
                        position: 'right',
                        min: 74.727,
                        max: 88.717,
                        afterBuildTicks: s => { s.ticks = priceTicks.map(v => ({ value: v })); },
                        afterFit: s => { s.width = 55; },
                        grid: { color: '#e4e4e4', tickColor: '#000', tickLength: 6 },
                        border: { color: '#000', width: 1.5 },
                        ticks: {
                            autoSkip: false,
                            padding: 2,
                            color: '#000',
                            font: { family: sans, size: 13.5 },
                            callback: v => v.toFixed(2)
                        }
                    }
                }
            }
        });
    </script>
</body>

</html>
